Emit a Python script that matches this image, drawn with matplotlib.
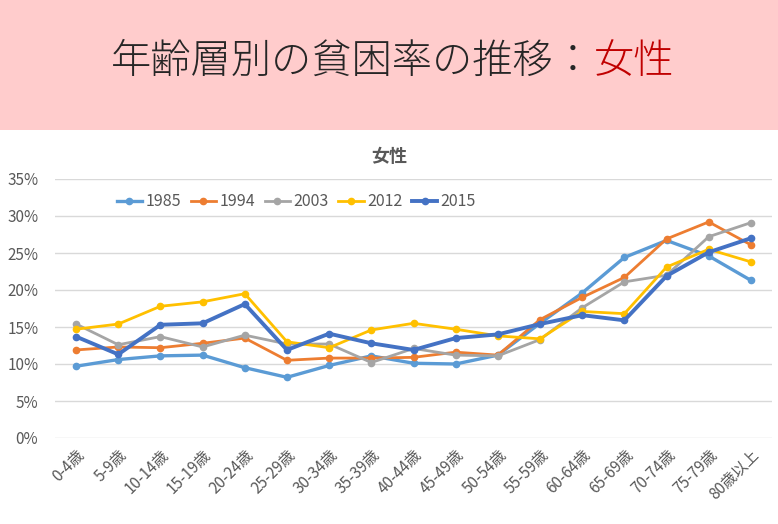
import matplotlib

matplotlib.use("Agg")

import matplotlib.pyplot as plt
from matplotlib.patches import Rectangle
from matplotlib.ticker import PercentFormatter


plt.rcParams["font.family"] = ["Noto Sans CJK JP", "DejaVu Sans"]

AGES = ["0-4歳", "5-9歳", "10-14歳", "15-19歳", "20-24歳", "25-29歳", "30-34歳",
        "35-39歳", "40-44歳", "45-49歳", "50-54歳", "55-59歳", "60-64歳",
        "65-69歳", "70-74歳", "75-79歳", "80歳以上"]

Y1985 = [9.7, 10.6, 11.1, 11.2, 9.5, 8.2, 9.8, 11.1, 10.1, 10.0, 11.2, 15.5, 19.6, 24.4, 26.7, 24.6, 21.3]
Y1994 = [11.9, 12.3, 12.2, 12.8, 13.5, 10.5, 10.8, 10.8, 10.9, 11.6, 11.2, 16.0, 19.0, 21.7, 26.9, 29.2, 26.1]
Y2003 = [15.4, 12.6, 13.7, 12.3, 13.9, 12.7, 12.7, 10.2, 12.1, 11.2, 11.1, 13.3, 17.6, 21.1, 22.0, 27.2, 29.1]
Y2012 = [14.7, 15.4, 17.8, 18.4, 19.5, 13.0, 12.2, 14.6, 15.5, 14.7, 13.8, 13.4, 17.1, 16.8, 23.1, 25.5, 23.8]
Y2015 = [13.7, 11.3, 15.3, 15.5, 18.1, 11.9, 14.1, 12.8, 11.9, 13.5, 14.0, 15.4, 16.6, 15.9, 21.9, 25.1, 27.0]

SERIES = [
    ("1985", Y1985, "#5B9BD5", 2.4),
    ("1994", Y1994, "#ED7D31", 2.0),
    ("2003", Y2003, "#A5A5A5", 2.0),
    ("2012", Y2012, "#FFC000", 2.0),
    ("2015", Y2015, "#4472C4", 2.8),
]

TEXT = "#595959"

fig = plt.figure(figsize=(7.78, 5.24), dpi=100)

# pink banner on top
fig.patches.append(Rectangle((0, 1 - 130 / 524), 1, 130 / 524, transform=fig.transFigure,
                             facecolor="#FFCCCC", edgecolor="none", zorder=0))
split = 594 / 778
fig.text(split, 1 - 62 / 524, "年齢層別の貧困率の推移：", ha="right", va="center",
         fontsize=29, fontweight="light", color="#262626")
fig.text(split, 1 - 62 / 524, "女性", ha="left", va="center", fontsize=29,
         fontweight="light", color="#C00000")

fig.text(0.5, 1 - 157 / 524, "女性", ha="center", va="center", fontsize=13,
         fontweight="bold", color=TEXT)

ax = fig.add_axes([55 / 778, 1 - 438 / 524, 717 / 778, 259 / 524])
x = range(len(AGES))
for name, vals, color, lw in SERIES:
    ax.plot(x, vals, color=color, linewidth=lw, marker="o", markersize=4.5, label=name)

ax.set_xlim(-0.5, len(AGES) - 0.5)
ax.set_ylim(0, 35)
ax.set_yticks(range(0, 36, 5))
ax.yaxis.set_major_formatter(PercentFormatter(decimals=0))
ax.set_xticks(list(x))
ax.set_xticklabels(AGES, rotation=45, ha="right", rotation_mode="anchor")
ax.tick_params(axis="both", length=0, labelsize=11, colors=TEXT)
ax.tick_params(axis="x", pad=6)
ax.tick_params(axis="y", pad=12)
ax.grid(axis="y", color="#D9D9D9", linewidth=1)
ax.set_axisbelow(True)
for s in ax.spines.values():
    s.set_visible(False)

ax.legend(loc="upper left", bbox_to_anchor=(0.066, 1.0), ncol=5, frameon=False,
          fontsize=11.5, handlelength=1.6, columnspacing=0.6, handletextpad=0.2,
          labelcolor=TEXT)

fig.savefig("out.png", dpi=100)
